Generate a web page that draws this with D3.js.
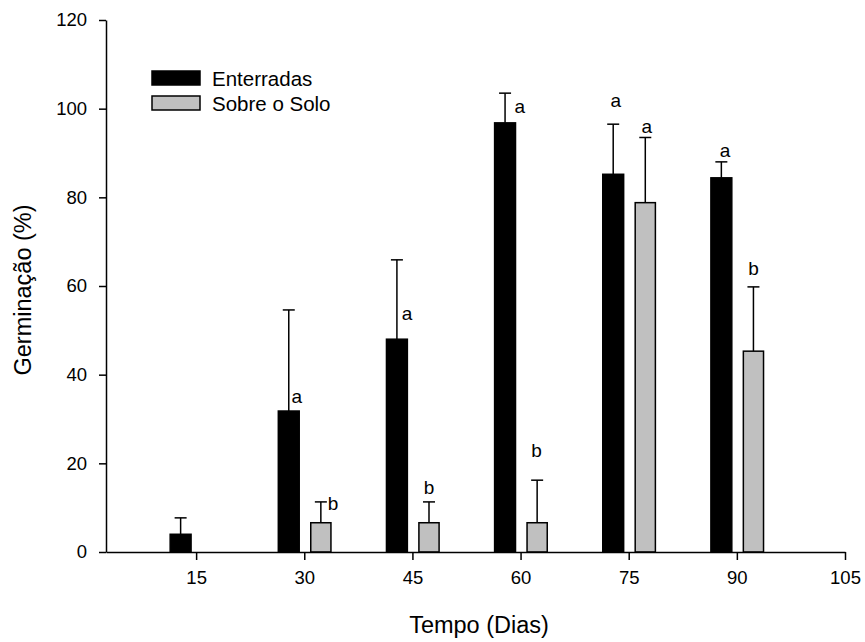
<!DOCTYPE html>
<html>
<head>
<meta charset="utf-8">
<script src="https://cdn.jsdelivr.net/npm/d3@7"></script>
<style>
  body { margin: 0; background: #fff; }
  svg text { font-family: "Liberation Sans", Arial, sans-serif; fill: #000; }
</style>
</head>
<body>
<svg id="chart" width="865" height="642"></svg>
<script>
// data
var days = [15, 30, 45, 60, 75, 90];
var enterradas = [4.0, 31.8, 48.0, 96.8, 85.2, 84.4];
var enterradasErr = [3.7, 22.8, 17.9, 6.7, 11.3, 3.6];
var sobreSolo = [0, 6.6, 6.6, 6.6, 78.8, 45.3];
var sobreSoloErr = [0, 4.7, 4.7, 9.6, 14.7, 14.5];
var xTicks = [15, 30, 45, 60, 75, 90, 105];
var yTicks = [0, 20, 40, 60, 80, 100, 120];

// significance letters (day, % where they sit)
var letters = [
  { t: "a", x: 28.95, y: 35.0 },
  { t: "a", x: 44.25, y: 53.9 },
  { t: "a", x: 59.9, y: 100.4 },
  { t: "a", x: 73.2, y: 101.8 },
  { t: "a", x: 88.35, y: 90.5 },
  { t: "b", x: 34.0, y: 11.0 },
  { t: "b", x: 47.3, y: 14.6 },
  { t: "b", x: 62.2, y: 23.0 },
  { t: "a", x: 77.5, y: 95.9 },
  { t: "b", x: 92.3, y: 64.0 }
];

var svg = d3.select("#chart");

var x = d3.scaleLinear().domain([2.5, 105]).range([106, 845]);
var y = d3.scaleLinear().domain([0, 120]).range([552, 20]);

// bar offsets in days relative to the group position
var blackL = -3.6, blackR = -0.7, grayL = 0.9, grayR = 3.7;

var series = [
  { vals: enterradas, err: enterradasErr, l: blackL, r: blackR, fill: "#000" },
  { vals: sobreSolo, err: sobreSoloErr, l: grayL, r: grayR, fill: "#c0c0c0" }
];

series.forEach(function(s) {
  var g = svg.append("g");
  var items = days.map(function(d, i) { return { d: d, v: s.vals[i], e: s.err[i] }; })
    .filter(function(o) { return o.v > 0; });
  var mid = function(o) { return x(o.d + (s.l + s.r) / 2); };

  // error bars (upper only)
  g.selectAll("line.eb")
    .data(items)
    .enter().append("line")
      .attr("x1", mid)
      .attr("x2", mid)
      .attr("y1", function(o) { return y(o.v); })
      .attr("y2", function(o) { return y(o.v + o.e); })
      .attr("stroke", "#000").attr("stroke-width", 1.5);

  g.selectAll("line.cap")
    .data(items)
    .enter().append("line")
      .attr("x1", function(o) { return mid(o) - 6; })
      .attr("x2", function(o) { return mid(o) + 6; })
      .attr("y1", function(o) { return y(o.v + o.e); })
      .attr("y2", function(o) { return y(o.v + o.e); })
      .attr("stroke", "#000").attr("stroke-width", 1.5);

  g.selectAll("rect")
    .data(items)
    .enter().append("rect")
      .attr("x", function(o) { return x(o.d + s.l); })
      .attr("width", function(o) { return x(o.d + s.r) - x(o.d + s.l); })
      .attr("y", function(o) { return y(o.v); })
      .attr("height", function(o) { return y(0) - y(o.v); })
      .attr("fill", s.fill)
      .attr("stroke", "#000").attr("stroke-width", 1.5);
});

// axes
var xAxis = svg.append("g")
  .attr("transform", "translate(0," + y(0) + ")")
  .call(d3.axisBottom(x).tickValues(xTicks).tickSize(8).tickPadding(11).tickSizeOuter(0));
var yAxis = svg.append("g")
  .attr("transform", "translate(" + x(2.5) + ",0)")
  .call(d3.axisLeft(y).tickValues(yTicks).tickSize(7).tickPadding(12).tickSizeOuter(0));

[xAxis, yAxis].forEach(function(a) {
  a.selectAll("path, line").attr("stroke", "#000").attr("stroke-width", 1.5);
  a.selectAll("text").style("font-size", "18.5px");
});

// letters
svg.selectAll("text.letter")
  .data(letters)
  .enter().append("text")
    .attr("class", "letter")
    .attr("x", function(d) { return x(d.x); })
    .attr("y", function(d) { return y(d.y); })
    .attr("text-anchor", "middle")
    .attr("dominant-baseline", "central")
    .style("font-size", "19px")
    .text(function(d) { return d.t; });

// legend
var legend = svg.append("g");
legend.append("rect").attr("x", 152).attr("y", 71).attr("width", 48).attr("height", 14)
  .attr("fill", "#000").attr("stroke", "#000").attr("stroke-width", 1.5);
legend.append("rect").attr("x", 152).attr("y", 96).attr("width", 48).attr("height", 14)
  .attr("fill", "#c0c0c0").attr("stroke", "#000").attr("stroke-width", 1.5);
legend.append("text").attr("x", 212).attr("y", 78).attr("dominant-baseline", "central")
  .style("font-size", "20.5px").text("Enterradas");
legend.append("text").attr("x", 212).attr("y", 103).attr("dominant-baseline", "central")
  .style("font-size", "20.5px").text("Sobre o Solo");

// axis titles
svg.append("text")
  .attr("transform", "translate(23,290) rotate(-90)")
  .attr("text-anchor", "middle")
  .attr("dominant-baseline", "central")
  .style("font-size", "23.5px")
  .text("Germinação (%)");
svg.append("text")
  .attr("x", 479).attr("y", 625)
  .attr("text-anchor", "middle")
  .attr("dominant-baseline", "central")
  .style("font-size", "23.5px")
  .text("Tempo (Dias)");
</script>
</body>
</html>
